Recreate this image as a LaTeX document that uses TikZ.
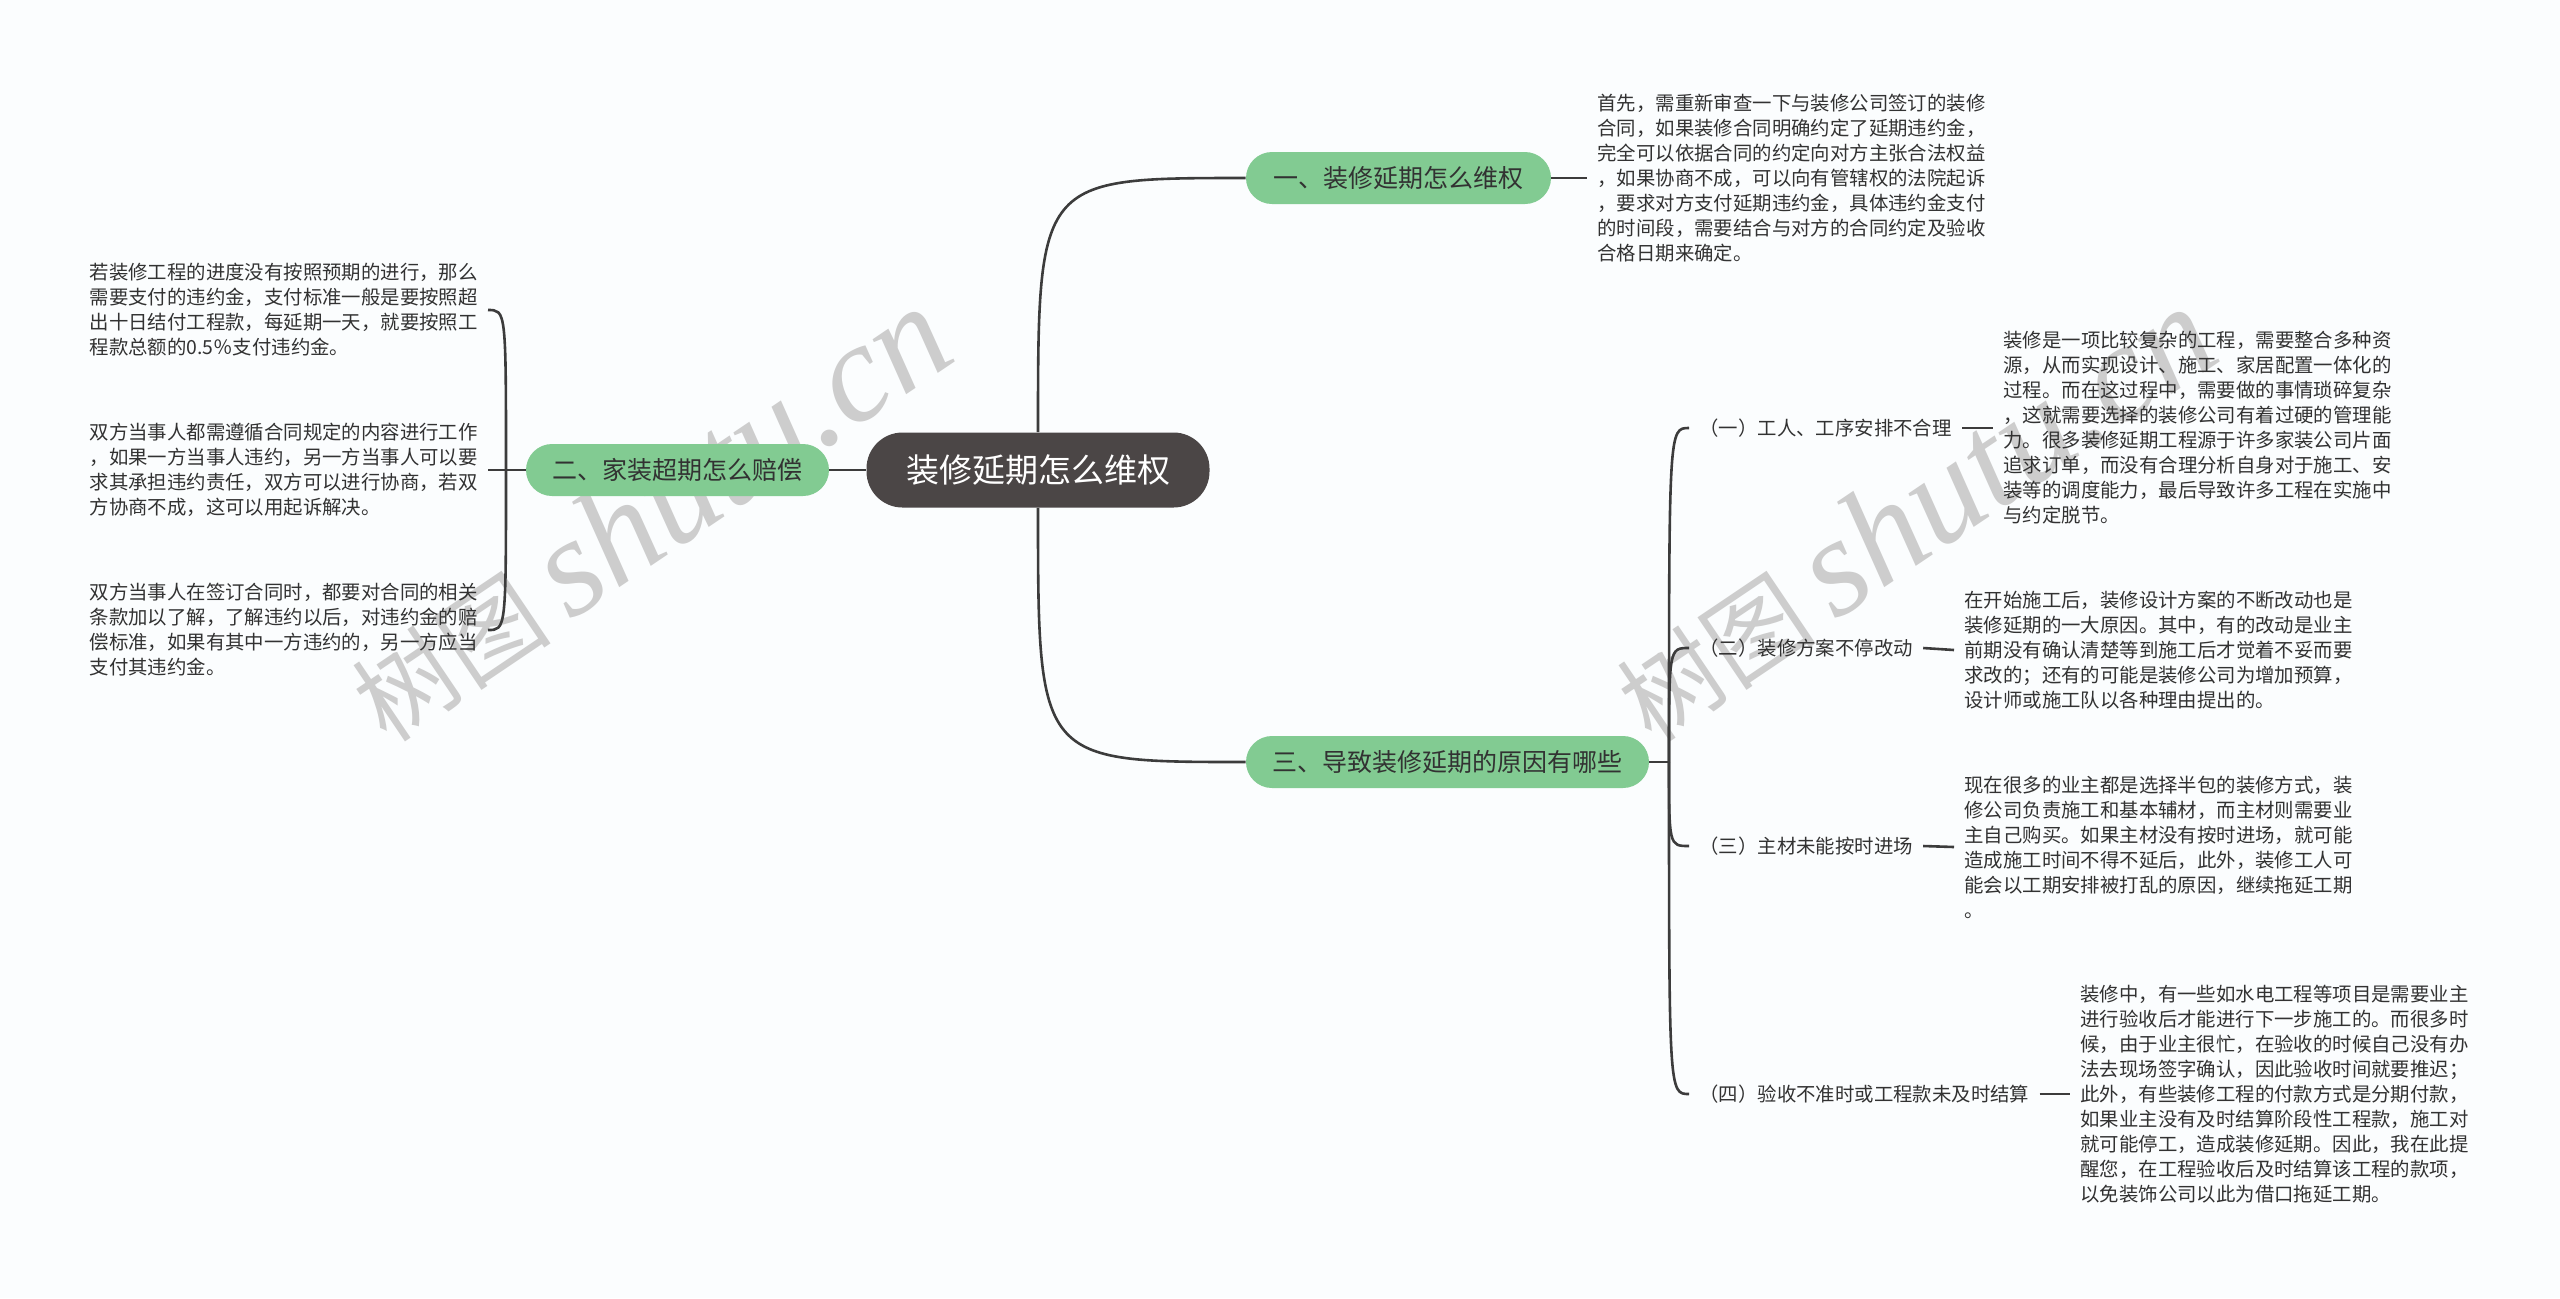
\documentclass[tikz,border=0pt]{standalone}
\usepackage{fontspec}
\setmainfont{Noto Sans CJK SC}
\newfontfamily\wmlatin{Liberation Serif}
\definecolor{bgc}{RGB}{251,253,254}
\definecolor{greenc}{RGB}{130,203,146}
\definecolor{darkc}{RGB}{75,70,70}
\definecolor{linec}{RGB}{60,60,60}
\definecolor{txtc}{RGB}{50,50,50}
\definecolor{wmc}{RGB}{205,205,205}
\begin{document}
\begin{tikzpicture}[x=0.5pt,y=-0.5pt,
  conn/.style={draw=linec, line width=1.3pt},
  rootnode/.style={fill=darkc, text=white, rounded corners=18pt, minimum height=37.5pt, inner sep=0pt, font=\fontsize{16.5pt}{20pt}\selectfont},
  topic/.style={fill=greenc, text=txtc, rounded corners=13pt, minimum height=26pt, inner sep=0pt, font=\fontsize{12.5pt}{15pt}\selectfont},
  para/.style={text=txtc, align=left, inner xsep=5pt, inner ysep=0pt, font=\fontsize{9.7pt}{12.5pt}\selectfont},
  sublabel/.style={text=txtc, inner xsep=5pt, inner ysep=2pt, font=\fontsize{9.7pt}{12.5pt}\selectfont},
  wm/.style={text=wmc, rotate=34, inner sep=0pt}
]
\fill[bgc] (0,0) rectangle (2560,1298);
\useasboundingbox (0,0) rectangle (2560,1298);

% watermarks
\node[wm] (wm1) at (649,514) {\fontsize{50pt}{50pt}\selectfont 树图\hspace{10pt}{\wmlatin\itshape\fontsize{70pt}{70pt}\selectfont shutu.cn}};
\node[wm] (wm2) at (1914,514) {\fontsize{50pt}{50pt}\selectfont 树图\hspace{10pt}{\wmlatin\itshape\fontsize{70pt}{70pt}\selectfont shutu.cn}};

% nodes
\node[rootnode, minimum width=171.5pt] (root) at (1038,470) {装修延期怎么维权};
\node[topic, minimum width=152.5pt] (b1) at (1398.5,178) {一、装修延期怎么维权};
\node[topic, minimum width=151.5pt] (b2) at (677.5,470) {二、家装超期怎么赔偿};
\node[topic, minimum width=201.5pt] (b3) at (1447.5,762) {三、导致装修延期的原因有哪些};

\node[para, anchor=west] (t1) at (1587,178) {首先，需重新审查一下与装修公司签订的装修\\合同，如果装修合同明确约定了延期违约金，\\完全可以依据合同的约定向对方主张合法权益\\，如果协商不成，可以向有管辖权的法院起诉\\，要求对方支付延期违约金，具体违约金支付\\的时间段，需要结合与对方的合同约定及验收\\合格日期来确定。};

\node[para, anchor=east] (l1) at (488,310) {若装修工程的进度没有按照预期的进行，那么\\需要支付的违约金，支付标准一般是要按照超\\出十日结付工程款，每延期一天，就要按照工\\程款总额的0.5％支付违约金。};
\node[para, anchor=east] (l2) at (488,470) {双方当事人都需遵循合同规定的内容进行工作\\，如果一方当事人违约，另一方当事人可以要\\求其承担违约责任，双方可以进行协商，若双\\方协商不成，这可以用起诉解决。};
\node[para, anchor=east] (l3) at (488,630) {双方当事人在签订合同时，都要对合同的相关\\条款加以了解，了解违约以后，对违约金的赔\\偿标准，如果有其中一方违约的，另一方应当\\支付其违约金。};

\node[sublabel, anchor=west] (s1) at (1689,428) {（一）工人、工序安排不合理};
\node[sublabel, anchor=west] (s2) at (1689,648) {（二）装修方案不停改动};
\node[sublabel, anchor=west] (s3) at (1689,846) {（三）主材未能按时进场};
\node[sublabel, anchor=west] (s4) at (1689,1094) {（四）验收不准时或工程款未及时结算};

\node[para, anchor=west] (r1) at (1993,428) {装修是一项比较复杂的工程，需要整合多种资\\源，从而实现设计、施工、家居配置一体化的\\过程。而在这过程中，需要做的事情琐碎复杂\\，这就需要选择的装修公司有着过硬的管理能\\力。很多装修延期工程源于许多家装公司片面\\追求订单，而没有合理分析自身对于施工、安\\装等的调度能力，最后导致许多工程在实施中\\与约定脱节。};
\node[para, anchor=west] (r2) at (1954,650) {在开始施工后，装修设计方案的不断改动也是\\装修延期的一大原因。其中，有的改动是业主\\前期没有确认清楚等到施工后才觉着不妥而要\\求改的；还有的可能是装修公司为增加预算，\\设计师或施工队以各种理由提出的。};
\node[para, anchor=west] (r3) at (1954,847) {现在很多的业主都是选择半包的装修方式，装\\修公司负责施工和基本辅材，而主材则需要业\\主自己购买。如果主材没有按时进场，就可能\\造成施工时间不得不延后，此外，装修工人可\\能会以工期安排被打乱的原因，继续拖延工期\\。};
\node[para, anchor=west] (r4) at (2070,1094) {装修中，有一些如水电工程等项目是需要业主\\进行验收后才能进行下一步施工的。而很多时\\候，由于业主很忙，在验收的时候自己没有办\\法去现场签字确认，因此验收时间就要推迟；\\此外，有些装修工程的付款方式是分期付款，\\如果业主没有及时结算阶段性工程款，施工对\\就可能停工，造成装修延期。因此，我在此提\\醒您，在工程验收后及时结算该工程的款项，\\以免装饰公司以此为借口拖延工期。};

\coordinate (j2) at (506,470);
\coordinate (j3) at (1669,762);

% connectors
\draw[conn] (root.north) .. controls (root.north |- b1.west) .. (b1.west);
\draw[conn] (root.south) .. controls (root.south |- b3.west) .. (b3.west);
\draw[conn] (root.west) -- (b2.east);
\draw[conn] (b1.east) -- (t1.west);

\draw[conn] (b2.west) -- (j2);
\draw[conn] (j2) .. controls (j2 |- l1.east) .. (l1.east);
\draw[conn] (j2) -- (l2.east);
\draw[conn] (j2) .. controls (j2 |- l3.east) .. (l3.east);

\draw[conn] (b3.east) -- (j3);
\draw[conn] (j3) .. controls (j3 |- s1.west) .. (s1.west);
\draw[conn] (j3) .. controls (j3 |- s2.west) .. (s2.west);
\draw[conn] (j3) .. controls (j3 |- s3.west) .. (s3.west);
\draw[conn] (j3) .. controls (j3 |- s4.west) .. (s4.west);

\draw[conn] (s1.east) -- (r1.west);
\draw[conn] (s2.east) -- (r2.west);
\draw[conn] (s3.east) -- (r3.west);
\draw[conn] (s4.east) -- (r4.west);
\end{tikzpicture}
\end{document}
